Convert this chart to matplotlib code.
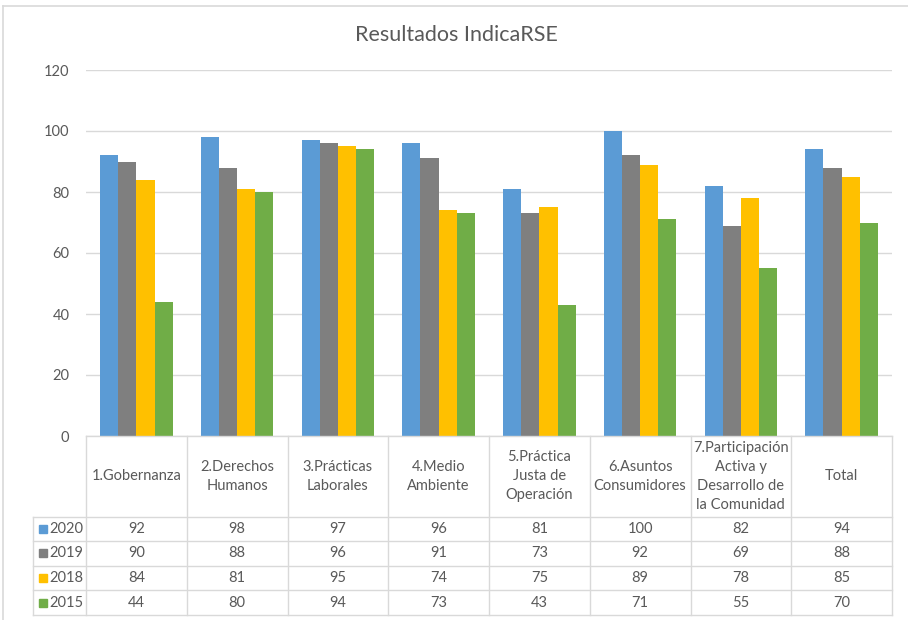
import matplotlib.pyplot as plt
from matplotlib.lines import Line2D
import numpy as np

plt.rcParams['font.family'] = ['Lato', 'DejaVu Sans']

categories = ['1.Gobernanza', '2.Derechos\nHumanos', '3.Prácticas\nLaborales',
              '4.Medio\nAmbiente', '5.Práctica\nJusta de\nOperación',
              '6.Asuntos\nConsumidores',
              '7.Participación\nActiva y\nDesarrollo de\nla Comunidad', 'Total']
years = ['2020', '2019', '2018', '2015']
v2020 = [92, 98, 97, 96, 81, 100, 82, 94]
v2019 = [90, 88, 96, 91, 73, 92, 69, 88]
v2018 = [84, 81, 95, 74, 75, 89, 78, 85]
v2015 = [44, 80, 94, 73, 43, 71, 55, 70]
series = [v2020, v2019, v2018, v2015]
colors = ['#5B9BD5', '#7F7F7F', '#FFC000', '#70AD47']

txt = '#595959'
line_c = '#D9D9D9'
W, H = 908, 620
fs = 10.5

fig = plt.figure(figsize=(W / 100, H / 100), dpi=100)


def fx(px):
    return px / W


def fy(py):
    return 1 - py / H


# main bar area
ax = fig.add_axes([fx(86), fy(436), (892 - 86) / W, (436 - 70) / H])
x = np.arange(len(categories))
bw = 0.18
for i, vals in enumerate(series):
    ax.bar(x + (i - 1.5) * bw, vals, bw, color=colors[i], zorder=3)
ax.set_xlim(-0.5, len(categories) - 0.5)
ax.set_ylim(0, 120)
ax.set_yticks(range(0, 121, 20))
ax.set_xticks([])
ax.grid(axis='y', color=line_c, linewidth=1, zorder=0)
for s in ax.spines.values():
    s.set_visible(False)
ax.tick_params(axis='y', length=0, pad=12, labelsize=fs, labelcolor=txt)

# data table under the chart
tab = fig.add_axes([fx(86), fy(615), (892 - 86) / W, (615 - 436) / H])
tab.set_xlim(-0.5, len(categories) - 0.5)
head = 80.5
rh = 24.6
total = head + rh * len(series)
tab.set_ylim(total, 0)
tab.axis('off')
leg_left = -0.5 - (86 - 33) / 100.75

# horizontal lines
tab.plot([-0.5, len(categories) - 0.5], [0, 0], color=line_c, lw=1, clip_on=False)
for r in range(len(series) + 1):
    yy = head + r * rh
    tab.plot([leg_left, len(categories) - 0.5], [yy, yy], color=line_c, lw=1,
             clip_on=False)
# vertical lines
for c in range(len(categories) + 1):
    tab.plot([c - 0.5, c - 0.5], [0, total], color=line_c, lw=1, clip_on=False)
tab.plot([leg_left, leg_left], [head, total], color=line_c, lw=1, clip_on=False)

for c, name in enumerate(categories):
    tab.text(c, head / 2, name, ha='center', va='center', fontsize=fs,
             color=txt, linespacing=1.45)

for r, (yr, vals) in enumerate(zip(years, series)):
    yc = head + (r + 0.5) * rh
    tab.plot([leg_left + 0.1], [yc], marker='s', ms=6, color=colors[r],
             clip_on=False, linestyle='none')
    tab.text(leg_left + 0.16, yc, yr, ha='left', va='center', fontsize=fs,
             color=txt)
    for c, v in enumerate(vals):
        tab.text(c, yc, str(v), ha='center', va='center', fontsize=fs,
                 color=txt)

fig.text(fx(456), fy(35), 'Resultados IndicaRSE', ha='center', va='center',
         fontsize=15.5, color=txt)

# chart border
fig.add_artist(Line2D([fx(3), 1], [fy(6), fy(6)], color=line_c, lw=1.2))
fig.add_artist(Line2D([fx(3), fx(3)], [fy(6), 0], color=line_c, lw=1.2))

fig.savefig('out.png', dpi=100)
